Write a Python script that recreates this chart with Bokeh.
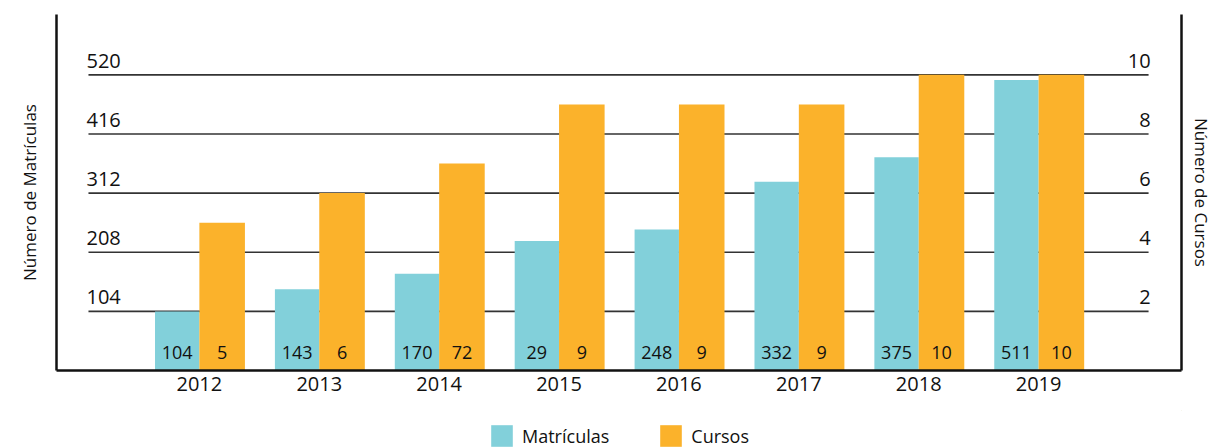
from bokeh.plotting import figure
from bokeh.layouts import column
from bokeh.models import (Range1d, LinearAxis, FixedTicker, Legend, LegendItem,
                          ColumnDataSource)
from bokeh.core.properties import value
from bokeh.embed import file_html
from bokeh.resources import INLINE

# ---- data ----
years = [2012, 2013, 2014, 2015, 2016, 2017, 2018, 2019]
matriculas = [104, 143, 170, 228, 248, 332, 375, 511]
matriculas_labels = ["104", "143", "170", "29", "248", "332", "375", "511"]
cursos = [5, 6, 7, 9, 9, 9, 10, 10]
cursos_labels = ["5", "6", "72", "9", "9", "9", "10", "10"]
left_ticks = [104, 208, 312, 416, 520]
right_ticks = [2, 4, 6, 8, 10]
series_names = ["Matrículas", "Cursos"]

FONT = "Open Sans"
TEAL = "#82D0DA"
ORANGE = "#FBB22B"
INK = "#111111"

p = figure(width=1215, height=410, output_backend="svg", toolbar_location=None,
           x_range=Range1d(2010.8083, 2020.1917), y_range=Range1d(0, 626.2),
           min_border_left=56, min_border_right=33, min_border_top=14,
           min_border_bottom=40)
p.extra_y_ranges = {"cursos": Range1d(0, 12.04)}
p.outline_line_color = None
p.xgrid.visible = False
p.ygrid.visible = False
p.background_fill_color = "white"
p.border_fill_color = "white"

# axes
p.xaxis.ticker = FixedTicker(ticks=years)
p.xaxis.major_label_text_font = FONT
p.xaxis.major_label_text_font_size = "20px"
p.xaxis.major_label_text_color = INK
p.xaxis.major_label_standoff = 6
p.xaxis.major_tick_out = 0
p.xaxis.major_tick_in = 0
p.xaxis.major_tick_line_color = None
p.xaxis.minor_tick_line_color = None
p.xaxis.axis_line_width = 2.5
p.xaxis.axis_line_color = INK

p.yaxis.ticker = FixedTicker(ticks=[])
p.yaxis.major_label_text_font_size = "0px"
p.yaxis.major_label_standoff = 0
p.yaxis.major_tick_line_color = None
p.yaxis.minor_tick_line_color = None
p.yaxis.axis_line_width = 2.5
p.yaxis.axis_line_color = INK
p.yaxis.axis_label = "Número de Matrículas"
p.yaxis.axis_label_text_font = FONT
p.yaxis.axis_label_text_font_size = "17px"
p.yaxis.axis_label_text_font_style = "normal"
p.yaxis.axis_label_text_color = INK
p.yaxis.axis_label_standoff = 16

ry = LinearAxis(y_range_name="cursos", ticker=FixedTicker(ticks=[]),
                major_label_text_font_size="0px", major_label_standoff=0,
                major_tick_line_color=None, minor_tick_line_color=None,
                axis_line_width=2.5, axis_line_color=INK,
                axis_label="Número de Cursos", axis_label_text_font=FONT,
                axis_label_text_font_size="17px", axis_label_text_font_style="normal",
                axis_label_text_color=INK, axis_label_standoff=8)
p.add_layout(ry, "right")

# grid lines (behind bars)
gx0, gx1 = 2011.075, 2019.917
p.segment(x0=[gx0] * len(left_ticks), y0=left_ticks, x1=[gx1] * len(left_ticks),
          y1=left_ticks, line_color="#333333", line_width=1.6)

# bars
off_m, off_c = -0.185, 0.19
src = ColumnDataSource(dict(
    xm=[y + off_m for y in years], xc=[y + off_c for y in years],
    m=matriculas, c=cursos, ml=matriculas_labels, cl=cursos_labels))
rm = p.vbar(x="xm", top="m", width=0.37, source=src, fill_color=TEAL, line_color=None)
rc = p.vbar(x="xc", top="c", width=0.38, source=src, fill_color=ORANGE, line_color=None,
            y_range_name="cursos")

# data labels
p.text(x="xm", y=0, text="ml", source=src, text_font=value(FONT), text_font_size="18px",
       text_color=INK, text_align="center", text_baseline="bottom", y_offset=-12)
p.text(x="xc", y=0, text="cl", source=src, text_font=value(FONT), text_font_size="18px",
       text_color=INK, text_align="center", text_baseline="bottom", y_offset=-12)

# tick labels inside plot
p.text(x=[gx0] * len(left_ticks), y=left_ticks, text=[str(t) for t in left_ticks],
       text_font=value(FONT), text_font_size="20px", text_color=INK,
       text_align="left", text_baseline="bottom", y_offset=-7, x_offset=-2)
p.text(x=[gx1] * len(right_ticks), y=right_ticks, text=[str(t) for t in right_ticks],
       text_font=value(FONT), text_font_size="20px", text_color=INK,
       text_align="right", text_baseline="bottom", y_offset=-7, x_offset=2,
       y_range_name="cursos")

# legend strip below the chart
p2 = figure(width=1215, height=37, output_backend="svg", toolbar_location=None,
            x_axis_type=None, y_axis_type=None, x_range=Range1d(0, 1), y_range=Range1d(0, 1),
            min_border_left=0, min_border_right=0, min_border_top=0, min_border_bottom=0)
p2.outline_line_color = None
p2.xgrid.visible = False
p2.ygrid.visible = False
lm = p2.vbar(x=[5], top=[5], bottom=[4], width=0.1, fill_color=TEAL, line_color=None)
lc = p2.vbar(x=[5], top=[5], bottom=[4], width=0.1, fill_color=ORANGE, line_color=None)
legend = Legend(items=[LegendItem(label=series_names[0], renderers=[lm]),
                       LegendItem(label=series_names[1], renderers=[lc])],
                location=(432, -2), orientation="horizontal",
                glyph_width=27, glyph_height=27, label_standoff=7, spacing=48,
                padding=0, margin=0, border_line_color=None, background_fill_alpha=0,
                label_text_font=FONT, label_text_font_size="18px", label_text_color=INK)
p2.add_layout(legend)

open("out.html", "w").write(file_html(column(p, p2, spacing=0), INLINE))
